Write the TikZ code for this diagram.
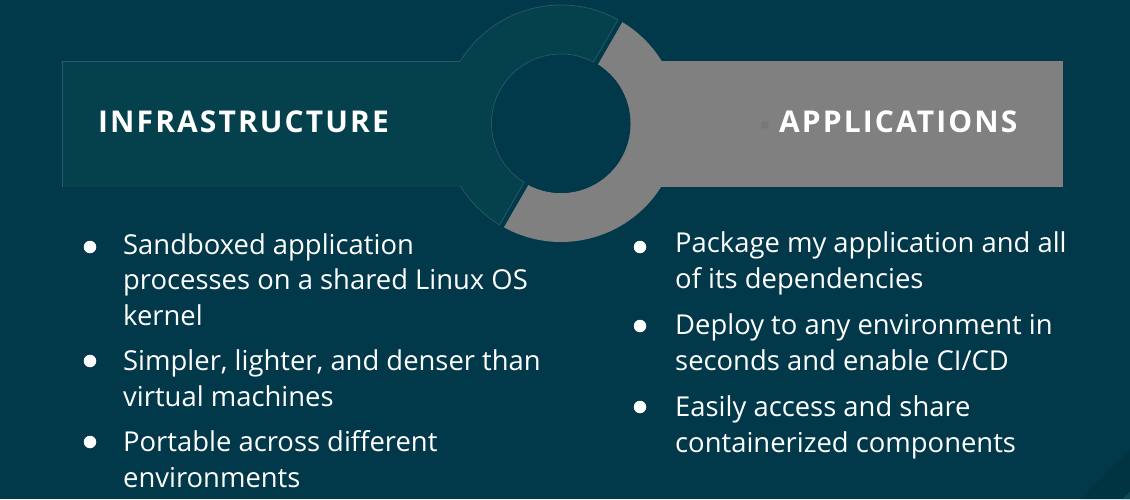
\documentclass[tikz,border=0pt]{standalone}
\usepackage{fontspec}
\setmainfont{Open Sans}
\newfontfamily\headfont[LetterSpace=7]{Open Sans}
\definecolor{bgcol}{RGB}{1,57,74}
\definecolor{bgdark}{RGB}{0,52,67}
\definecolor{bglight}{RGB}{10,72,86}
\definecolor{tealcol}{RGB}{5,64,77}
\definecolor{edgecol}{RGB}{38,92,104}
\definecolor{graycol}{RGB}{128,128,128}
\begin{document}
\begin{tikzpicture}[x=1pt,y=1pt,
  headtext/.style={font=\headfont\bfseries\fontsize{30}{36}\selectfont, text=white, anchor=base west, inner sep=0},
  itemtext/.style={font=\fontsize{27.4}{35.5}\selectfont, text=white, anchor=base west, align=left, inner sep=0},
  bulletdot/.style={circle, fill=white, minimum size=12.5pt, inner sep=0},
  edge/.style={draw=edgecol, line width=0.7pt}]
\useasboundingbox (0,0) rectangle (1130,499);
\fill[bgcol] (0,0) rectangle (1130,499);
\fill[bgdark] (1130,49) -- (1080,0) -- (1130,0) -- cycle;
\fill[bglight] (1122,0) -- (1130,7) -- (1130,0) -- cycle;
\coordinate (c) at (561,375.5);
% boxes
\fill[tealcol] (62,312) rectangle (500,438);
\fill[graycol] (620,312) rectangle (1063,438);
% ring sectors
\fill[tealcol] ([shift={(61.2:118.5)}]c) arc[start angle=61.2,end angle=238.8,radius=118.5]
  -- ([shift={(237.94:69.5)}]c) arc[start angle=237.94,end angle=62.06,radius=69.5] -- cycle;
\fill[graycol] ([shift={(241.2:118.5)}]c) arc[start angle=241.2,end angle=418.8,radius=118.5]
  -- ([shift={(417.94:69.5)}]c) arc[start angle=417.94,end angle=242.06,radius=69.5] -- cycle;
\fill[bgcol] (c) circle (69.5);
% faint outlines
\draw[edge] ([shift={(61.2:118.5)}]c) arc[start angle=61.2,end angle=148.2,radius=118.5];
\draw[edge] ([shift={(211.8:118.5)}]c) arc[start angle=211.8,end angle=238.8,radius=118.5]
  -- ([shift={(237.94:69.5)}]c) arc[start angle=237.94,end angle=62.06,radius=69.5]
  -- ([shift={(61.2:118.5)}]c);
\draw[edge] (62,312) -- (62,438) -- (460.3,438);
\fill[black, opacity=0.06] (765,374) circle (4);
% headings
\node[headtext] (infra) at (98,366) {INFRASTRUCTURE};
\node[headtext] (apps) at (779,366) {APPLICATIONS};
% left items (anchor = baseline of last line)
\node[bulletdot] (bl1) at (90,252) {};
\node[itemtext] (l1) at (123,174) {Sandboxed application\\processes on a shared Linux OS\\kernel};
\node[bulletdot] (bl2) at (90,138) {};
\node[itemtext] (l2) at (123,93) {Simpler, lighter, and denser than\\virtual machines};
\node[bulletdot] (bl3) at (90,57) {};
\node[itemtext] (l3) at (123,12) {Portable across different\\environments};
% right items
\node[bulletdot] (br1) at (640,252) {};
\node[itemtext] (r1) at (675,211) {Package my application and all\\of its dependencies};
\node[bulletdot] (br2) at (640,173) {};
\node[itemtext] (r2) at (675,129) {Deploy to any environment in\\seconds and enable CI/CD};
\node[bulletdot] (br3) at (640,92) {};
\node[itemtext] (r3) at (675,47) {Easily access and share\\containerized components};
\end{tikzpicture}
\end{document}
